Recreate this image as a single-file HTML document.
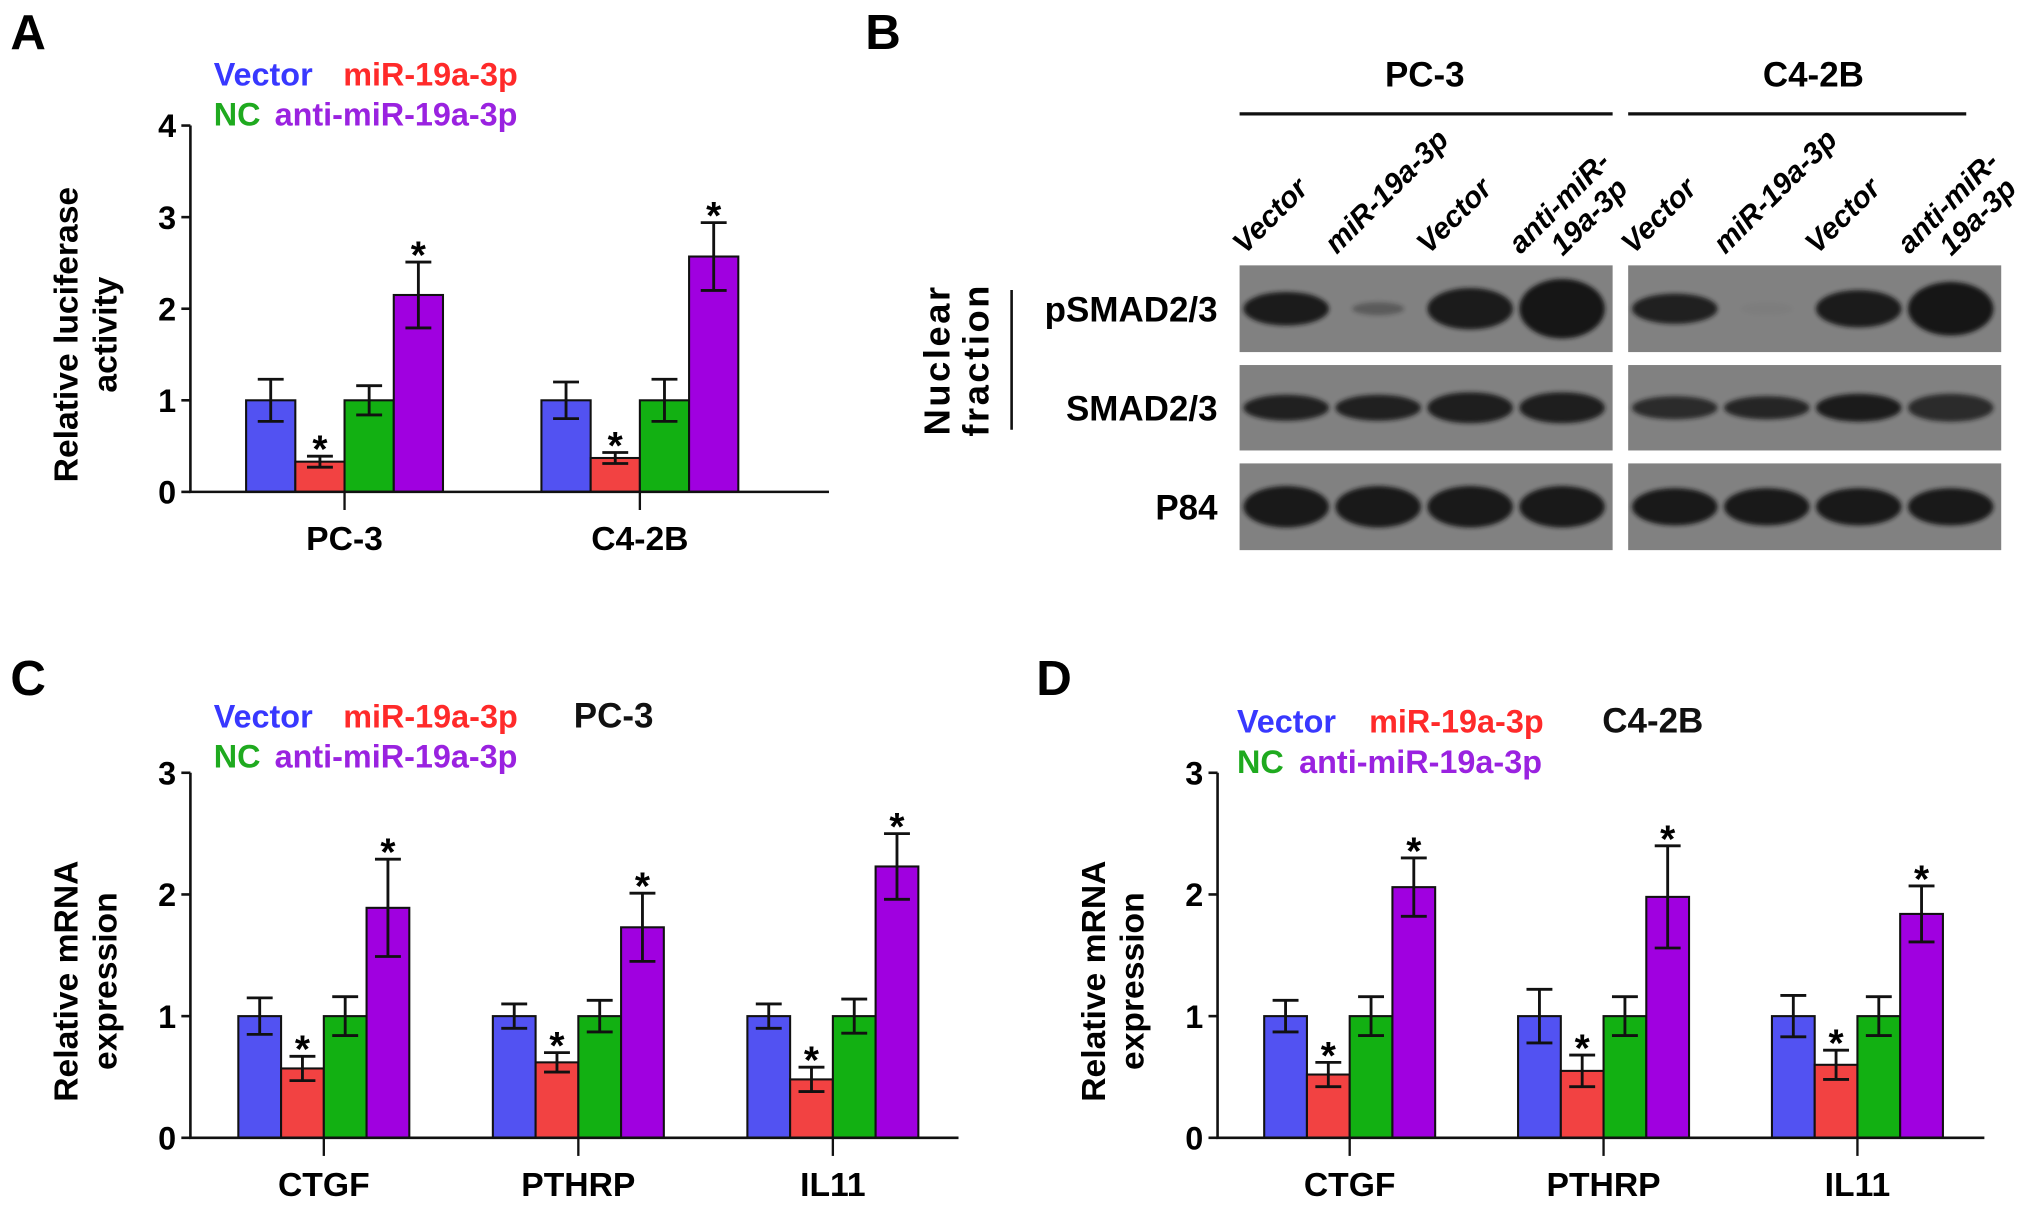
<!DOCTYPE html>
<html><head><meta charset="utf-8"><style>
html,body{margin:0;padding:0;background:#fff;}
svg{display:block;font-family:"Liberation Sans",Arial,sans-serif;font-weight:bold;}
</style></head><body>
<svg id="fig" width="2031" height="1209" viewBox="0 0 1568 934" preserveAspectRatio="none" xmlns="http://www.w3.org/2000/svg">
<defs><filter id="blur" x="-20%" y="-50%" width="140%" height="200%"><feGaussianBlur stdDeviation="1.6"/></filter></defs>
<g id="root"></g>
</svg>
<script>
// ---- data ----
const seriesNames = ["Vector","miR-19a-3p","NC","anti-miR-19a-3p"];
const aCategories = ["PC-3","C4-2B"];
const aVector = [1,1];       const aVectorErr = [0.23,0.2];
const aMiR = [0.33,0.37];    const aMiRErr = [0.06,0.06];
const aNC = [1,1];           const aNCErr = [0.16,0.23];
const aAnti = [2.15,2.57];   const aAntiErr = [0.36,0.37];
const aTicks = [0,1,2,3,4];

const cCategories = ["CTGF","PTHRP","IL11"];
const cVector = [1,1,1];          const cVectorErr = [0.15,0.1,0.1];
const cMiR = [0.57,0.62,0.48];    const cMiRErr = [0.1,0.08,0.1];
const cNC = [1,1,1];              const cNCErr = [0.16,0.13,0.14];
const cAnti = [1.89,1.73,2.23];   const cAntiErr = [0.4,0.28,0.27];
const cTicks = [0,1,2,3];

const dCategories = ["CTGF","PTHRP","IL11"];
const dVector = [1,1,1];          const dVectorErr = [0.13,0.22,0.17];
const dMiR = [0.52,0.55,0.6];     const dMiRErr = [0.1,0.13,0.12];
const dNC = [1,1,1];              const dNCErr = [0.16,0.16,0.16];
const dAnti = [2.06,1.98,1.84];   const dAntiErr = [0.24,0.42,0.23];
const dTicks = [0,1,2,3];

const starred = [false,true,false,true];

const fills = ["#5252f2","#f24242","#12b012","#a000e0"];
const textCols = ["#3838ff","#ff2a2a","#1faa1f","#9a22e0"];

const NS="http://www.w3.org/2000/svg";
const root=document.getElementById('root');
function el(tag,attrs,parent,text){const e=document.createElementNS(NS,tag);for(const k in attrs)e.setAttribute(k,attrs[k]);if(text!==undefined)e.textContent=text;(parent||root).appendChild(e);return e;}

function chart(o){
  const g=el('g',{});
  
  
  const y=v=>o.y0-(v/o.ymax)*(o.y0-o.ytop);
  o.categories.forEach((cat,ci)=>{
    const gx=o.gx0+ci*o.gstep;
    o.values.forEach((ser,si)=>{
      const v=ser[ci], e=o.errs[si][ci];
      const x=gx+si*o.bw, cx=x+o.bw/2;
      const b=el('rect',{x:x,y:y(v),width:o.bw,height:o.y0-y(v),fill:fills[si],stroke:'#111','stroke-width':1.6},g);
      
      
      const eb=el('path',{d:`M${cx} ${y(v+e)}V${y(v-e)}M${cx-10} ${y(v+e)}H${cx+10}M${cx-10} ${y(v-e)}H${cx+10}`,stroke:'#111','stroke-width':2.2,fill:'none'},g);
      
      
      if(starred[si]){
        const s=el('text',{x:cx,y:y(v+e)+5,'text-anchor':'middle','font-size':30},g,'*');
        
        
      }
    });
    const tc=gx+2*o.bw;
    el('line',{x1:tc,y1:o.y0,x2:tc,y2:o.y0+14,stroke:'#111','stroke-width':1.8},g);
    const lb=el('text',{x:tc,y:o.y0+45,'text-anchor':'middle','font-size':26},g,cat);
    
    
  });
  const ax=el('path',{d:`M${o.ax} ${o.ytop}V${o.y0}H${o.xend}`,stroke:'#111','stroke-width':2,fill:'none'},g);
  
  
  o.ticks.forEach(t=>{
    el('line',{x1:o.ax-7,y1:y(t),x2:o.ax,y2:y(t),stroke:'#111','stroke-width':2},g);
    const tl=el('text',{x:o.ax-11,y:y(t)+9,'text-anchor':'end','font-size':25},g,String(t));
    
    
  });
  const yt=el('text',{transform:`translate(${o.ax-87},${(o.y0+o.ytop)/2+20}) rotate(-90)`,'text-anchor':'middle','font-size':26},g);
  
  
  el('tspan',{x:0,dy:0},yt,o.ytitle[0]);
  el('tspan',{x:0,dy:30},yt,o.ytitle[1]);
  const L=o.leg;
  const items=[[L.x,L.y,0],[L.x2,L.y,1],[L.x,L.y+31,2],[L.x3,L.y+31,3]];
  items.forEach(([x,yy,si])=>{
    const t=el('text',{x:x,y:yy,'font-size':25,fill:textCols[si]},g,seriesNames[si]);
    
    
  });
  if(o.legTitle){const t=el('text',{x:o.legTitle[1],y:L.y,'font-size':27,fill:'#111'},g,o.legTitle[0]);
    }
  const pl=el('text',{x:o.letter[1],y:o.letter[2],'font-size':38},g,o.letter[0]);
  
  
}

chart({name:'panel-a-chart',categories:aCategories,values:[aVector,aMiR,aNC,aAnti],errs:[aVectorErr,aMiRErr,aNCErr,aAntiErr],
  ticks:aTicks,ymax:4,y0:380,ytop:97,ax:147,xend:640,gx0:190,gstep:228,bw:38,
  ytitle:['Relative luciferase','activity'],leg:{x:165,x2:265,x3:212,y:66},letter:['A',8,38]});
chart({name:'panel-c-chart',categories:cCategories,values:[cVector,cMiR,cNC,cAnti],errs:[cVectorErr,cMiRErr,cNCErr,cAntiErr],
  ticks:cTicks,ymax:3,y0:879,ytop:597,ax:147,xend:740,gx0:184,gstep:196.5,bw:33,
  ytitle:['Relative mRNA','expression'],leg:{x:165,x2:265,x3:212,y:562},legTitle:['PC-3',443],letter:['C',8,537]});
chart({name:'panel-d-chart',categories:dCategories,values:[dVector,dMiR,dNC,dAnti],errs:[dVectorErr,dMiRErr,dNCErr,dAntiErr],
  ticks:dTicks,ymax:3,y0:879,ytop:597,ax:940,xend:1532,gx0:976,gstep:196,bw:33,
  ytitle:['Relative mRNA','expression'],leg:{x:955,x2:1057,x3:1003,y:566},legTitle:['C4-2B',1237],letter:['D',800,537]});

// ---- Panel B: western blot ----
const laneLabels=[["Vector"],["miR-19a-3p"],["Vector"],["anti-miR-","19a-3p"]];
const rowLabels=["pSMAD2/3","SMAD2/3","P84"];
const pSmad=[0.95,0.35,0.95,1.0, 0.9,0.03,0.95,1.0];
const smad=[0.9,0.9,0.92,0.92, 0.8,0.85,0.95,0.8];
const p84=[0.97,0.97,0.97,0.97, 0.97,0.97,0.97,0.97];
const bandRows=[pSmad,smad,p84];
const bandH=[[26,10,32,46],[20,20,24,24],[32,32,32,32]];
const gb=el('g',{});


const bl=el('text',{x:668,y:38,'font-size':38},gb,'B');

const blocks=[{x:957,w:288,name:'PC-3',lx:1100,le:1245},{x:1257,w:288,name:'C4-2B',lx:1400,le:1518}];
const rowsY=[205,282,358], rowH=[67,66,67];
blocks.forEach((b,bi)=>{
  const h=el('text',{x:b.lx,y:67,'text-anchor':'middle','font-size':27},gb,b.name);
  
  el('line',{x1:b.x,y1:88,x2:b.le,y2:88,stroke:'#111','stroke-width':2.5},gb);
  rowsY.forEach((ry,ri)=>{
    el('rect',{x:b.x,y:ry,width:b.w,height:rowH[ri],fill:'#818181'},gb);
    for(let l=0;l<4;l++){
      const inten=bandRows[ri][bi*4+l];
      const cx=b.x+36+l*71, cy=ry+rowH[ri]/2;
      const rx=(ri==0&&l==1)?20:33;
      const e=el('ellipse',{cx:cx,cy:cy,rx:rx,ry:(bi==0?bandH[ri][l]:bandH[ri][l]*0.9)/2,fill:'#151515',opacity:inten,filter:'url(#blur)'},gb);
      
    }
  });
  for(let l=0;l<4;l++){
    const cx=b.x+36+l*71;
    const t=el('text',{transform:`translate(${cx-32},${197}) rotate(-45)`,'font-size':23,'font-style':'italic'},gb);
    
    laneLabels[l].forEach((s,i)=>el('tspan',{x:i*22,dy:i?24:0},t,s));
  }
});
rowLabels.forEach((r,ri)=>{
  const t=el('text',{x:940,y:rowsY[ri]+rowH[ri]/2+10,'text-anchor':'end','font-size':27},gb,r);
  
});
el('line',{x1:781,y1:224,x2:781,y2:332,stroke:'#111','stroke-width':2},gb);
const nf=el('text',{transform:'translate(733,278) rotate(-90)','text-anchor':'middle','font-size':28,'letter-spacing':'2'},gb);

el('tspan',{x:0,dy:0},nf,'Nuclear');
el('tspan',{x:0,dy:30},nf,'fraction');
</script>
</body></html>
